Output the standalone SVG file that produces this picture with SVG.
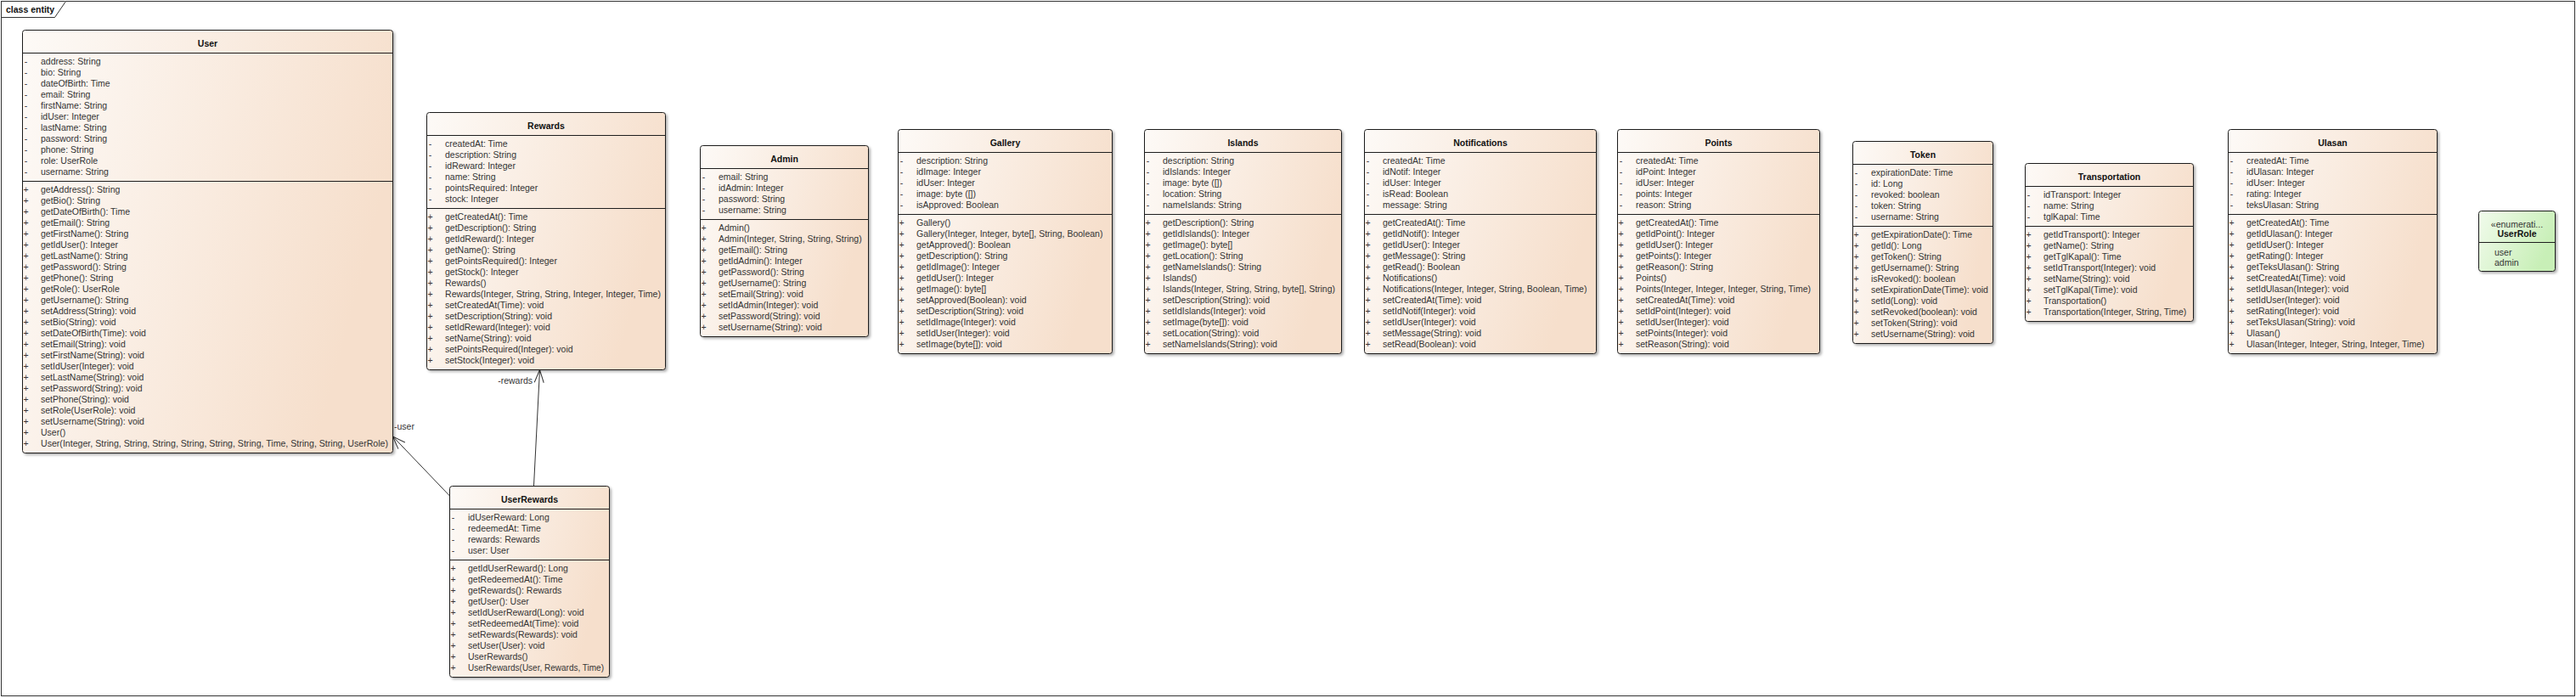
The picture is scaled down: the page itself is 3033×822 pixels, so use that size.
<svg xmlns="http://www.w3.org/2000/svg" width="3033" height="822" viewBox="0 0 3033 822">
<defs>
<linearGradient id="g" x1="0" y1="0" x2="1" y2="0.3">
<stop offset="0" stop-color="#fdfaf7"/>
<stop offset="1" stop-color="#f6dfcc"/>
</linearGradient>
<linearGradient id="ge" x1="0" y1="0" x2="1" y2="0.4">
<stop offset="0" stop-color="#f1fbec"/>
<stop offset="1" stop-color="#c8efb7"/>
</linearGradient>
<filter id="sh" x="-5%" y="-5%" width="110%" height="110%">
<feDropShadow dx="2" dy="2" stdDeviation="1.5" flood-color="#000" flood-opacity="0.3"/>
</filter>
<marker id="arr" markerUnits="userSpaceOnUse" markerWidth="20" markerHeight="20" viewBox="-20 -10 20 20" refX="0" refY="0" orient="auto" overflow="visible">
<path d="M-15,-5.5 L0,0 L-15,5.5" fill="none" stroke="#333" stroke-width="1"/>
</marker>
<style>
.box{stroke:#1e1e1e;stroke-width:1;filter:url(#sh)}
.cls{fill:url(#g)}
.en{fill:url(#ge)}
.sep{stroke:#1e1e1e;stroke-width:1}
.h{font-family:"Liberation Sans",Arial,sans-serif;font-size:10.5px;font-weight:bold;fill:#111;text-anchor:middle}
.m{font-family:"Liberation Sans",Arial,sans-serif;font-size:10.5px;fill:#333}
.v{font-family:"Liberation Sans",Arial,sans-serif;font-size:10.5px;fill:#333;text-anchor:middle}
.c{font-family:"Liberation Sans",Arial,sans-serif;font-size:10.5px;fill:#333;text-anchor:middle}
.con{stroke:#333;stroke-width:1;fill:none}
</style>
</defs>
<rect x="0" y="0" width="3033" height="822" fill="#fff"/>
<g id="frame">
<rect x="1.5" y="1.5" width="3030" height="818" fill="none" stroke="#333"/>
<path d="M1.5,20.5 H64.5 L77.5,1.5" fill="#fff" stroke="#333"/>
<text class="h" x="7" y="15" style="text-anchor:start">class entity</text>
</g>

<g id="connectors">
<path class="con" d="M628.5,572 L635.5,435.5" marker-end="url(#arr)"/>
<path class="con" d="M529.5,584 L462.5,514" marker-end="url(#arr)"/>
<text class="m" x="627" y="452" text-anchor="end">-rewards</text>
<text class="m" x="464" y="506">-user</text>
</g>

<g id="User">
<rect class="box cls" x="26.5" y="35.5" width="436" height="498" rx="3"/>
<line class="sep" x1="26.5" y1="62.5" x2="462.5" y2="62.5"/>
<line class="sep" x1="26.5" y1="213.5" x2="462.5" y2="213.5"/>
<text class="h" x="244.5" y="55">User</text>
<text class="v" x="30.5" y="76"><tspan>-</tspan><tspan x="30.5" dy="13">-</tspan><tspan x="30.5" dy="13">-</tspan><tspan x="30.5" dy="13">-</tspan><tspan x="30.5" dy="13">-</tspan><tspan x="30.5" dy="13">-</tspan><tspan x="30.5" dy="13">-</tspan><tspan x="30.5" dy="13">-</tspan><tspan x="30.5" dy="13">-</tspan><tspan x="30.5" dy="13">-</tspan><tspan x="30.5" dy="13">-</tspan></text>
<text class="m" x="48" y="76"><tspan>address: String</tspan><tspan x="48" dy="13">bio: String</tspan><tspan x="48" dy="13">dateOfBirth: Time</tspan><tspan x="48" dy="13">email: String</tspan><tspan x="48" dy="13">firstName: String</tspan><tspan x="48" dy="13">idUser: Integer</tspan><tspan x="48" dy="13">lastName: String</tspan><tspan x="48" dy="13">password: String</tspan><tspan x="48" dy="13">phone: String</tspan><tspan x="48" dy="13">role: UserRole</tspan><tspan x="48" dy="13">username: String</tspan></text>
<text class="v" x="30.5" y="227"><tspan>+</tspan><tspan x="30.5" dy="13">+</tspan><tspan x="30.5" dy="13">+</tspan><tspan x="30.5" dy="13">+</tspan><tspan x="30.5" dy="13">+</tspan><tspan x="30.5" dy="13">+</tspan><tspan x="30.5" dy="13">+</tspan><tspan x="30.5" dy="13">+</tspan><tspan x="30.5" dy="13">+</tspan><tspan x="30.5" dy="13">+</tspan><tspan x="30.5" dy="13">+</tspan><tspan x="30.5" dy="13">+</tspan><tspan x="30.5" dy="13">+</tspan><tspan x="30.5" dy="13">+</tspan><tspan x="30.5" dy="13">+</tspan><tspan x="30.5" dy="13">+</tspan><tspan x="30.5" dy="13">+</tspan><tspan x="30.5" dy="13">+</tspan><tspan x="30.5" dy="13">+</tspan><tspan x="30.5" dy="13">+</tspan><tspan x="30.5" dy="13">+</tspan><tspan x="30.5" dy="13">+</tspan><tspan x="30.5" dy="13">+</tspan><tspan x="30.5" dy="13">+</tspan></text>
<text class="m" x="48" y="227"><tspan>getAddress(): String</tspan><tspan x="48" dy="13">getBio(): String</tspan><tspan x="48" dy="13">getDateOfBirth(): Time</tspan><tspan x="48" dy="13">getEmail(): String</tspan><tspan x="48" dy="13">getFirstName(): String</tspan><tspan x="48" dy="13">getIdUser(): Integer</tspan><tspan x="48" dy="13">getLastName(): String</tspan><tspan x="48" dy="13">getPassword(): String</tspan><tspan x="48" dy="13">getPhone(): String</tspan><tspan x="48" dy="13">getRole(): UserRole</tspan><tspan x="48" dy="13">getUsername(): String</tspan><tspan x="48" dy="13">setAddress(String): void</tspan><tspan x="48" dy="13">setBio(String): void</tspan><tspan x="48" dy="13">setDateOfBirth(Time): void</tspan><tspan x="48" dy="13">setEmail(String): void</tspan><tspan x="48" dy="13">setFirstName(String): void</tspan><tspan x="48" dy="13">setIdUser(Integer): void</tspan><tspan x="48" dy="13">setLastName(String): void</tspan><tspan x="48" dy="13">setPassword(String): void</tspan><tspan x="48" dy="13">setPhone(String): void</tspan><tspan x="48" dy="13">setRole(UserRole): void</tspan><tspan x="48" dy="13">setUsername(String): void</tspan><tspan x="48" dy="13">User()</tspan></text>
<text class="m" x="48" y="526" textLength="409" lengthAdjust="spacingAndGlyphs">User(Integer, String, String, String, String, String, String, Time, String, String, UserRole)</text>
</g>

<g id="Rewards">
<rect class="box cls" x="502.5" y="132.5" width="281" height="303" rx="3"/>
<line class="sep" x1="502.5" y1="159.5" x2="783.5" y2="159.5"/>
<line class="sep" x1="502.5" y1="245.5" x2="783.5" y2="245.5"/>
<text class="h" x="643" y="152">Rewards</text>
<text class="v" x="506.5" y="173"><tspan>-</tspan><tspan x="506.5" dy="13">-</tspan><tspan x="506.5" dy="13">-</tspan><tspan x="506.5" dy="13">-</tspan><tspan x="506.5" dy="13">-</tspan><tspan x="506.5" dy="13">-</tspan></text>
<text class="m" x="524" y="173"><tspan>createdAt: Time</tspan><tspan x="524" dy="13">description: String</tspan><tspan x="524" dy="13">idReward: Integer</tspan><tspan x="524" dy="13">name: String</tspan><tspan x="524" dy="13">pointsRequired: Integer</tspan><tspan x="524" dy="13">stock: Integer</tspan></text>
<text class="v" x="506.5" y="259"><tspan>+</tspan><tspan x="506.5" dy="13">+</tspan><tspan x="506.5" dy="13">+</tspan><tspan x="506.5" dy="13">+</tspan><tspan x="506.5" dy="13">+</tspan><tspan x="506.5" dy="13">+</tspan><tspan x="506.5" dy="13">+</tspan><tspan x="506.5" dy="13">+</tspan><tspan x="506.5" dy="13">+</tspan><tspan x="506.5" dy="13">+</tspan><tspan x="506.5" dy="13">+</tspan><tspan x="506.5" dy="13">+</tspan><tspan x="506.5" dy="13">+</tspan><tspan x="506.5" dy="13">+</tspan></text>
<text class="m" x="524" y="259"><tspan>getCreatedAt(): Time</tspan><tspan x="524" dy="13">getDescription(): String</tspan><tspan x="524" dy="13">getIdReward(): Integer</tspan><tspan x="524" dy="13">getName(): String</tspan><tspan x="524" dy="13">getPointsRequired(): Integer</tspan><tspan x="524" dy="13">getStock(): Integer</tspan><tspan x="524" dy="13">Rewards()</tspan></text>
<text class="m" x="524" y="350" textLength="254" lengthAdjust="spacingAndGlyphs">Rewards(Integer, String, String, Integer, Integer, Time)</text>
<text class="m" x="524" y="363"><tspan>setCreatedAt(Time): void</tspan><tspan x="524" dy="13">setDescription(String): void</tspan><tspan x="524" dy="13">setIdReward(Integer): void</tspan><tspan x="524" dy="13">setName(String): void</tspan><tspan x="524" dy="13">setPointsRequired(Integer): void</tspan><tspan x="524" dy="13">setStock(Integer): void</tspan></text>
</g>

<g id="UserRewards">
<rect class="box cls" x="529.5" y="572.5" width="188" height="225" rx="3"/>
<line class="sep" x1="529.5" y1="599.5" x2="717.5" y2="599.5"/>
<line class="sep" x1="529.5" y1="659.5" x2="717.5" y2="659.5"/>
<text class="h" x="623.5" y="592">UserRewards</text>
<text class="v" x="533.5" y="613"><tspan>-</tspan><tspan x="533.5" dy="13">-</tspan><tspan x="533.5" dy="13">-</tspan><tspan x="533.5" dy="13">-</tspan></text>
<text class="m" x="551" y="613"><tspan>idUserReward: Long</tspan><tspan x="551" dy="13">redeemedAt: Time</tspan><tspan x="551" dy="13">rewards: Rewards</tspan><tspan x="551" dy="13">user: User</tspan></text>
<text class="v" x="533.5" y="673"><tspan>+</tspan><tspan x="533.5" dy="13">+</tspan><tspan x="533.5" dy="13">+</tspan><tspan x="533.5" dy="13">+</tspan><tspan x="533.5" dy="13">+</tspan><tspan x="533.5" dy="13">+</tspan><tspan x="533.5" dy="13">+</tspan><tspan x="533.5" dy="13">+</tspan><tspan x="533.5" dy="13">+</tspan><tspan x="533.5" dy="13">+</tspan></text>
<text class="m" x="551" y="673"><tspan>getIdUserReward(): Long</tspan><tspan x="551" dy="13">getRedeemedAt(): Time</tspan><tspan x="551" dy="13">getRewards(): Rewards</tspan><tspan x="551" dy="13">getUser(): User</tspan><tspan x="551" dy="13">setIdUserReward(Long): void</tspan><tspan x="551" dy="13">setRedeemedAt(Time): void</tspan><tspan x="551" dy="13">setRewards(Rewards): void</tspan><tspan x="551" dy="13">setUser(User): void</tspan><tspan x="551" dy="13">UserRewards()</tspan></text>
<text class="m" x="551" y="790" textLength="160" lengthAdjust="spacingAndGlyphs">UserRewards(User, Rewards, Time)</text>
</g>

<g id="Admin">
<rect class="box cls" x="824.5" y="171.5" width="198" height="225" rx="3"/>
<line class="sep" x1="824.5" y1="198.5" x2="1022.5" y2="198.5"/>
<line class="sep" x1="824.5" y1="258.5" x2="1022.5" y2="258.5"/>
<text class="h" x="923.5" y="191">Admin</text>
<text class="v" x="828.5" y="212"><tspan>-</tspan><tspan x="828.5" dy="13">-</tspan><tspan x="828.5" dy="13">-</tspan><tspan x="828.5" dy="13">-</tspan></text>
<text class="m" x="846" y="212"><tspan>email: String</tspan><tspan x="846" dy="13">idAdmin: Integer</tspan><tspan x="846" dy="13">password: String</tspan><tspan x="846" dy="13">username: String</tspan></text>
<text class="v" x="828.5" y="272"><tspan>+</tspan><tspan x="828.5" dy="13">+</tspan><tspan x="828.5" dy="13">+</tspan><tspan x="828.5" dy="13">+</tspan><tspan x="828.5" dy="13">+</tspan><tspan x="828.5" dy="13">+</tspan><tspan x="828.5" dy="13">+</tspan><tspan x="828.5" dy="13">+</tspan><tspan x="828.5" dy="13">+</tspan><tspan x="828.5" dy="13">+</tspan></text>
<text class="m" x="846" y="272"><tspan>Admin()</tspan><tspan x="846" dy="13">Admin(Integer, String, String, String)</tspan><tspan x="846" dy="13">getEmail(): String</tspan><tspan x="846" dy="13">getIdAdmin(): Integer</tspan><tspan x="846" dy="13">getPassword(): String</tspan><tspan x="846" dy="13">getUsername(): String</tspan><tspan x="846" dy="13">setEmail(String): void</tspan><tspan x="846" dy="13">setIdAdmin(Integer): void</tspan><tspan x="846" dy="13">setPassword(String): void</tspan><tspan x="846" dy="13">setUsername(String): void</tspan></text>
</g>

<g id="Gallery">
<rect class="box cls" x="1057.5" y="152.5" width="252" height="264" rx="3"/>
<line class="sep" x1="1057.5" y1="179.5" x2="1309.5" y2="179.5"/>
<line class="sep" x1="1057.5" y1="252.5" x2="1309.5" y2="252.5"/>
<text class="h" x="1183.5" y="172">Gallery</text>
<text class="v" x="1061.5" y="193"><tspan>-</tspan><tspan x="1061.5" dy="13">-</tspan><tspan x="1061.5" dy="13">-</tspan><tspan x="1061.5" dy="13">-</tspan><tspan x="1061.5" dy="13">-</tspan></text>
<text class="m" x="1079" y="193"><tspan>description: String</tspan><tspan x="1079" dy="13">idImage: Integer</tspan><tspan x="1079" dy="13">idUser: Integer</tspan><tspan x="1079" dy="13">image: byte ([])</tspan><tspan x="1079" dy="13">isApproved: Boolean</tspan></text>
<text class="v" x="1061.5" y="266"><tspan>+</tspan><tspan x="1061.5" dy="13">+</tspan><tspan x="1061.5" dy="13">+</tspan><tspan x="1061.5" dy="13">+</tspan><tspan x="1061.5" dy="13">+</tspan><tspan x="1061.5" dy="13">+</tspan><tspan x="1061.5" dy="13">+</tspan><tspan x="1061.5" dy="13">+</tspan><tspan x="1061.5" dy="13">+</tspan><tspan x="1061.5" dy="13">+</tspan><tspan x="1061.5" dy="13">+</tspan><tspan x="1061.5" dy="13">+</tspan></text>
<text class="m" x="1079" y="266"><tspan>Gallery()</tspan><tspan x="1079" dy="13">Gallery(Integer, Integer, byte[], String, Boolean)</tspan><tspan x="1079" dy="13">getApproved(): Boolean</tspan><tspan x="1079" dy="13">getDescription(): String</tspan><tspan x="1079" dy="13">getIdImage(): Integer</tspan><tspan x="1079" dy="13">getIdUser(): Integer</tspan><tspan x="1079" dy="13">getImage(): byte[]</tspan><tspan x="1079" dy="13">setApproved(Boolean): void</tspan><tspan x="1079" dy="13">setDescription(String): void</tspan><tspan x="1079" dy="13">setIdImage(Integer): void</tspan><tspan x="1079" dy="13">setIdUser(Integer): void</tspan><tspan x="1079" dy="13">setImage(byte[]): void</tspan></text>
</g>

<g id="Islands">
<rect class="box cls" x="1347.5" y="152.5" width="232" height="264" rx="3"/>
<line class="sep" x1="1347.5" y1="179.5" x2="1579.5" y2="179.5"/>
<line class="sep" x1="1347.5" y1="252.5" x2="1579.5" y2="252.5"/>
<text class="h" x="1463.5" y="172">Islands</text>
<text class="v" x="1351.5" y="193"><tspan>-</tspan><tspan x="1351.5" dy="13">-</tspan><tspan x="1351.5" dy="13">-</tspan><tspan x="1351.5" dy="13">-</tspan><tspan x="1351.5" dy="13">-</tspan></text>
<text class="m" x="1369" y="193"><tspan>description: String</tspan><tspan x="1369" dy="13">idIslands: Integer</tspan><tspan x="1369" dy="13">image: byte ([])</tspan><tspan x="1369" dy="13">location: String</tspan><tspan x="1369" dy="13">nameIslands: String</tspan></text>
<text class="v" x="1351.5" y="266"><tspan>+</tspan><tspan x="1351.5" dy="13">+</tspan><tspan x="1351.5" dy="13">+</tspan><tspan x="1351.5" dy="13">+</tspan><tspan x="1351.5" dy="13">+</tspan><tspan x="1351.5" dy="13">+</tspan><tspan x="1351.5" dy="13">+</tspan><tspan x="1351.5" dy="13">+</tspan><tspan x="1351.5" dy="13">+</tspan><tspan x="1351.5" dy="13">+</tspan><tspan x="1351.5" dy="13">+</tspan><tspan x="1351.5" dy="13">+</tspan></text>
<text class="m" x="1369" y="266"><tspan>getDescription(): String</tspan><tspan x="1369" dy="13">getIdIslands(): Integer</tspan><tspan x="1369" dy="13">getImage(): byte[]</tspan><tspan x="1369" dy="13">getLocation(): String</tspan><tspan x="1369" dy="13">getNameIslands(): String</tspan><tspan x="1369" dy="13">Islands()</tspan></text>
<text class="m" x="1369" y="344" textLength="203" lengthAdjust="spacingAndGlyphs">Islands(Integer, String, String, byte[], String)</text>
<text class="m" x="1369" y="357"><tspan>setDescription(String): void</tspan><tspan x="1369" dy="13">setIdIslands(Integer): void</tspan><tspan x="1369" dy="13">setImage(byte[]): void</tspan><tspan x="1369" dy="13">setLocation(String): void</tspan><tspan x="1369" dy="13">setNameIslands(String): void</tspan></text>
</g>

<g id="Notifications">
<rect class="box cls" x="1606.5" y="152.5" width="273" height="264" rx="3"/>
<line class="sep" x1="1606.5" y1="179.5" x2="1879.5" y2="179.5"/>
<line class="sep" x1="1606.5" y1="252.5" x2="1879.5" y2="252.5"/>
<text class="h" x="1743" y="172">Notifications</text>
<text class="v" x="1610.5" y="193"><tspan>-</tspan><tspan x="1610.5" dy="13">-</tspan><tspan x="1610.5" dy="13">-</tspan><tspan x="1610.5" dy="13">-</tspan><tspan x="1610.5" dy="13">-</tspan></text>
<text class="m" x="1628" y="193"><tspan>createdAt: Time</tspan><tspan x="1628" dy="13">idNotif: Integer</tspan><tspan x="1628" dy="13">idUser: Integer</tspan><tspan x="1628" dy="13">isRead: Boolean</tspan><tspan x="1628" dy="13">message: String</tspan></text>
<text class="v" x="1610.5" y="266"><tspan>+</tspan><tspan x="1610.5" dy="13">+</tspan><tspan x="1610.5" dy="13">+</tspan><tspan x="1610.5" dy="13">+</tspan><tspan x="1610.5" dy="13">+</tspan><tspan x="1610.5" dy="13">+</tspan><tspan x="1610.5" dy="13">+</tspan><tspan x="1610.5" dy="13">+</tspan><tspan x="1610.5" dy="13">+</tspan><tspan x="1610.5" dy="13">+</tspan><tspan x="1610.5" dy="13">+</tspan><tspan x="1610.5" dy="13">+</tspan></text>
<text class="m" x="1628" y="266"><tspan>getCreatedAt(): Time</tspan><tspan x="1628" dy="13">getIdNotif(): Integer</tspan><tspan x="1628" dy="13">getIdUser(): Integer</tspan><tspan x="1628" dy="13">getMessage(): String</tspan><tspan x="1628" dy="13">getRead(): Boolean</tspan><tspan x="1628" dy="13">Notifications()</tspan><tspan x="1628" dy="13">Notifications(Integer, Integer, String, Boolean, Time)</tspan><tspan x="1628" dy="13">setCreatedAt(Time): void</tspan><tspan x="1628" dy="13">setIdNotif(Integer): void</tspan><tspan x="1628" dy="13">setIdUser(Integer): void</tspan><tspan x="1628" dy="13">setMessage(String): void</tspan><tspan x="1628" dy="13">setRead(Boolean): void</tspan></text>
</g>

<g id="Points">
<rect class="box cls" x="1904.5" y="152.5" width="238" height="264" rx="3"/>
<line class="sep" x1="1904.5" y1="179.5" x2="2142.5" y2="179.5"/>
<line class="sep" x1="1904.5" y1="252.5" x2="2142.5" y2="252.5"/>
<text class="h" x="2023.5" y="172">Points</text>
<text class="v" x="1908.5" y="193"><tspan>-</tspan><tspan x="1908.5" dy="13">-</tspan><tspan x="1908.5" dy="13">-</tspan><tspan x="1908.5" dy="13">-</tspan><tspan x="1908.5" dy="13">-</tspan></text>
<text class="m" x="1926" y="193"><tspan>createdAt: Time</tspan><tspan x="1926" dy="13">idPoint: Integer</tspan><tspan x="1926" dy="13">idUser: Integer</tspan><tspan x="1926" dy="13">points: Integer</tspan><tspan x="1926" dy="13">reason: String</tspan></text>
<text class="v" x="1908.5" y="266"><tspan>+</tspan><tspan x="1908.5" dy="13">+</tspan><tspan x="1908.5" dy="13">+</tspan><tspan x="1908.5" dy="13">+</tspan><tspan x="1908.5" dy="13">+</tspan><tspan x="1908.5" dy="13">+</tspan><tspan x="1908.5" dy="13">+</tspan><tspan x="1908.5" dy="13">+</tspan><tspan x="1908.5" dy="13">+</tspan><tspan x="1908.5" dy="13">+</tspan><tspan x="1908.5" dy="13">+</tspan><tspan x="1908.5" dy="13">+</tspan></text>
<text class="m" x="1926" y="266"><tspan>getCreatedAt(): Time</tspan><tspan x="1926" dy="13">getIdPoint(): Integer</tspan><tspan x="1926" dy="13">getIdUser(): Integer</tspan><tspan x="1926" dy="13">getPoints(): Integer</tspan><tspan x="1926" dy="13">getReason(): String</tspan><tspan x="1926" dy="13">Points()</tspan><tspan x="1926" dy="13">Points(Integer, Integer, Integer, String, Time)</tspan><tspan x="1926" dy="13">setCreatedAt(Time): void</tspan><tspan x="1926" dy="13">setIdPoint(Integer): void</tspan><tspan x="1926" dy="13">setIdUser(Integer): void</tspan><tspan x="1926" dy="13">setPoints(Integer): void</tspan><tspan x="1926" dy="13">setReason(String): void</tspan></text>
</g>

<g id="Token">
<rect class="box cls" x="2181.5" y="166.5" width="165" height="238" rx="3"/>
<line class="sep" x1="2181.5" y1="193.5" x2="2346.5" y2="193.5"/>
<line class="sep" x1="2181.5" y1="266.5" x2="2346.5" y2="266.5"/>
<text class="h" x="2264" y="186">Token</text>
<text class="v" x="2185.5" y="207"><tspan>-</tspan><tspan x="2185.5" dy="13">-</tspan><tspan x="2185.5" dy="13">-</tspan><tspan x="2185.5" dy="13">-</tspan><tspan x="2185.5" dy="13">-</tspan></text>
<text class="m" x="2203" y="207"><tspan>expirationDate: Time</tspan><tspan x="2203" dy="13">id: Long</tspan><tspan x="2203" dy="13">revoked: boolean</tspan><tspan x="2203" dy="13">token: String</tspan><tspan x="2203" dy="13">username: String</tspan></text>
<text class="v" x="2185.5" y="280"><tspan>+</tspan><tspan x="2185.5" dy="13">+</tspan><tspan x="2185.5" dy="13">+</tspan><tspan x="2185.5" dy="13">+</tspan><tspan x="2185.5" dy="13">+</tspan><tspan x="2185.5" dy="13">+</tspan><tspan x="2185.5" dy="13">+</tspan><tspan x="2185.5" dy="13">+</tspan><tspan x="2185.5" dy="13">+</tspan><tspan x="2185.5" dy="13">+</tspan></text>
<text class="m" x="2203" y="280"><tspan>getExpirationDate(): Time</tspan><tspan x="2203" dy="13">getId(): Long</tspan><tspan x="2203" dy="13">getToken(): String</tspan><tspan x="2203" dy="13">getUsername(): String</tspan><tspan x="2203" dy="13">isRevoked(): boolean</tspan><tspan x="2203" dy="13">setExpirationDate(Time): void</tspan><tspan x="2203" dy="13">setId(Long): void</tspan><tspan x="2203" dy="13">setRevoked(boolean): void</tspan><tspan x="2203" dy="13">setToken(String): void</tspan><tspan x="2203" dy="13">setUsername(String): void</tspan></text>
</g>

<g id="Transportation">
<rect class="box cls" x="2384.5" y="192.5" width="198" height="186" rx="3"/>
<line class="sep" x1="2384.5" y1="219.5" x2="2582.5" y2="219.5"/>
<line class="sep" x1="2384.5" y1="266.5" x2="2582.5" y2="266.5"/>
<text class="h" x="2483.5" y="212">Transportation</text>
<text class="v" x="2388.5" y="233"><tspan>-</tspan><tspan x="2388.5" dy="13">-</tspan><tspan x="2388.5" dy="13">-</tspan></text>
<text class="m" x="2406" y="233"><tspan>idTransport: Integer</tspan><tspan x="2406" dy="13">name: String</tspan><tspan x="2406" dy="13">tglKapal: Time</tspan></text>
<text class="v" x="2388.5" y="280"><tspan>+</tspan><tspan x="2388.5" dy="13">+</tspan><tspan x="2388.5" dy="13">+</tspan><tspan x="2388.5" dy="13">+</tspan><tspan x="2388.5" dy="13">+</tspan><tspan x="2388.5" dy="13">+</tspan><tspan x="2388.5" dy="13">+</tspan><tspan x="2388.5" dy="13">+</tspan></text>
<text class="m" x="2406" y="280"><tspan>getIdTransport(): Integer</tspan><tspan x="2406" dy="13">getName(): String</tspan><tspan x="2406" dy="13">getTglKapal(): Time</tspan><tspan x="2406" dy="13">setIdTransport(Integer): void</tspan><tspan x="2406" dy="13">setName(String): void</tspan><tspan x="2406" dy="13">setTglKapal(Time): void</tspan><tspan x="2406" dy="13">Transportation()</tspan><tspan x="2406" dy="13">Transportation(Integer, String, Time)</tspan></text>
</g>

<g id="Ulasan">
<rect class="box cls" x="2623.5" y="152.5" width="246" height="264" rx="3"/>
<line class="sep" x1="2623.5" y1="179.5" x2="2869.5" y2="179.5"/>
<line class="sep" x1="2623.5" y1="252.5" x2="2869.5" y2="252.5"/>
<text class="h" x="2746.5" y="172">Ulasan</text>
<text class="v" x="2627.5" y="193"><tspan>-</tspan><tspan x="2627.5" dy="13">-</tspan><tspan x="2627.5" dy="13">-</tspan><tspan x="2627.5" dy="13">-</tspan><tspan x="2627.5" dy="13">-</tspan></text>
<text class="m" x="2645" y="193"><tspan>createdAt: Time</tspan><tspan x="2645" dy="13">idUlasan: Integer</tspan><tspan x="2645" dy="13">idUser: Integer</tspan><tspan x="2645" dy="13">rating: Integer</tspan><tspan x="2645" dy="13">teksUlasan: String</tspan></text>
<text class="v" x="2627.5" y="266"><tspan>+</tspan><tspan x="2627.5" dy="13">+</tspan><tspan x="2627.5" dy="13">+</tspan><tspan x="2627.5" dy="13">+</tspan><tspan x="2627.5" dy="13">+</tspan><tspan x="2627.5" dy="13">+</tspan><tspan x="2627.5" dy="13">+</tspan><tspan x="2627.5" dy="13">+</tspan><tspan x="2627.5" dy="13">+</tspan><tspan x="2627.5" dy="13">+</tspan><tspan x="2627.5" dy="13">+</tspan><tspan x="2627.5" dy="13">+</tspan></text>
<text class="m" x="2645" y="266"><tspan>getCreatedAt(): Time</tspan><tspan x="2645" dy="13">getIdUlasan(): Integer</tspan><tspan x="2645" dy="13">getIdUser(): Integer</tspan><tspan x="2645" dy="13">getRating(): Integer</tspan><tspan x="2645" dy="13">getTeksUlasan(): String</tspan><tspan x="2645" dy="13">setCreatedAt(Time): void</tspan><tspan x="2645" dy="13">setIdUlasan(Integer): void</tspan><tspan x="2645" dy="13">setIdUser(Integer): void</tspan><tspan x="2645" dy="13">setRating(Integer): void</tspan><tspan x="2645" dy="13">setTeksUlasan(String): void</tspan><tspan x="2645" dy="13">Ulasan()</tspan><tspan x="2645" dy="13">Ulasan(Integer, Integer, String, Integer, Time)</tspan></text>
</g>

<g id="UserRole">
<rect class="box en" x="2918.5" y="248.5" width="90" height="71" rx="3"/>
<line class="sep" x1="2918.5" y1="285.5" x2="3008.5" y2="285.5"/>
<text class="c" x="2963.5" y="267.5">«enumerati...</text>
<text class="h" x="2963.5" y="279">UserRole</text>
<text class="m" x="2937" y="300.5"><tspan>user</tspan><tspan x="2937" dy="12.5">admin</tspan></text>
</g>
</svg>
